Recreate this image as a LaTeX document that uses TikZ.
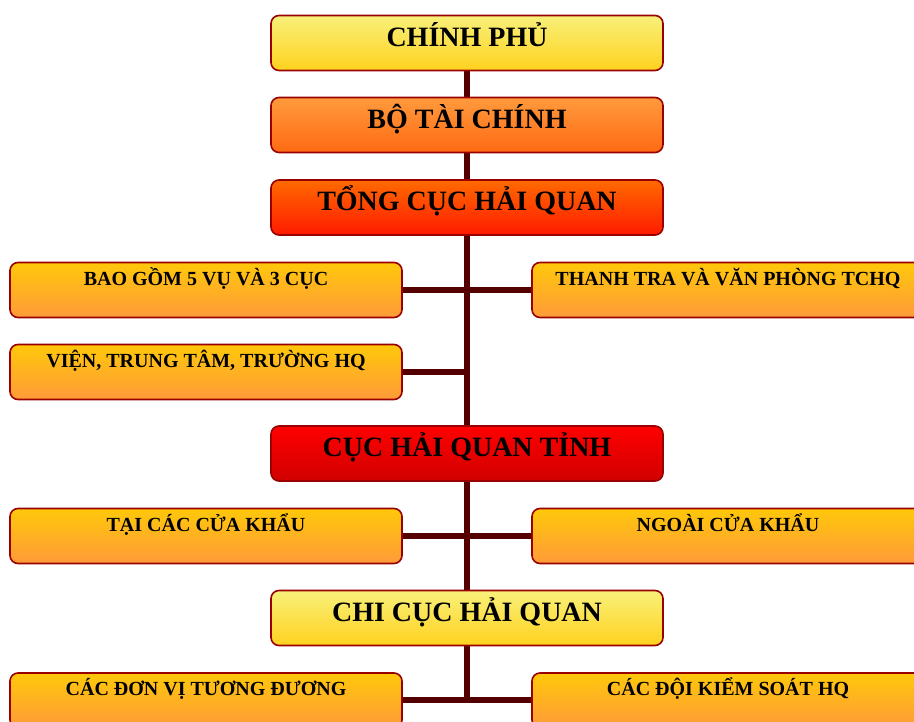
\documentclass[tikz,border=0pt]{standalone}
\usepackage{fontspec}
\setmainfont{Liberation Serif}
\usetikzlibrary{positioning,backgrounds}
\definecolor{trunk}{HTML}{550000}
\definecolor{edge}{HTML}{990000}
\definecolor{yeltop}{HTML}{F8F07A}
\definecolor{yelbot}{HTML}{FFD21E}
\definecolor{orgtop}{HTML}{FF9A3C}
\definecolor{orgbot}{HTML}{FF6A14}
\definecolor{redtop}{HTML}{FF6A00}
\definecolor{redbot}{HTML}{FF1A00}
\definecolor{crtop}{HTML}{FF0000}
\definecolor{crbot}{HTML}{D00000}
\definecolor{sidetop}{HTML}{FFC80A}
\definecolor{sidebot}{HTML}{FF9A3A}

\begin{document}
\begin{tikzpicture}[
    x=1pt,y=1pt,
    inner sep=0pt, %box size comes from minimum size
    box/.style={rectangle,rounded corners=8pt,draw=edge,line width=1.6pt,
        minimum width=392pt,minimum height=55pt},
    main/.style={box,font=\fontsize{28}{30}\selectfont\bfseries,
        text height=14pt,text depth=7pt},
    side/.style={box,top color=sidetop,bottom color=sidebot,
        font=\fontsize{20}{22}\selectfont\bfseries,
        text height=5pt,text depth=14pt},
    ypt/.style={main,top color=yeltop,bottom color=yelbot},
    opt/.style={main,top color=orgtop,bottom color=orgbot},
    rpt/.style={main,top color=redtop,bottom color=redbot},
    cpt/.style={main,top color=crtop,bottom color=crbot},
    link/.style={draw=trunk,line width=6pt},
    ]
    \clip (0,0) rectangle (914,722);
    \useasboundingbox (0,0) rectangle (914,722);

    %main column
    \node[ypt] (cp) at (467,679) {CHÍNH PHỦ};
    \node[opt] (btc) at (467,597) {BỘ TÀI CHÍNH};
    \node[rpt] (tchq) at (467,514.5) {TỔNG CỤC HẢI QUAN};
    \node[cpt] (chqt) at (467,268.5) {CỤC HẢI QUAN TỈNH};
    \node[ypt] (ccq) at (467,104) {CHI CỤC HẢI QUAN};

    %under tong cuc
    \node[side] (bg) at (206,432) {BAO GỒM 5 VỤ VÀ 3 CỤC};
    \node[side] (tt) at (728,432) {THANH TRA VÀ VĂN PHÒNG TCHQ};
    \node[side] (vien) at (206,350) {VIỆN, TRUNG TÂM, TRƯỜNG HQ};

    %under cuc tinh
    \node[side] (tai) at (206,186) {TẠI CÁC CỬA KHẨU};
    \node[side] (ngoai) at (728,186) {NGOÀI CỬA KHẨU};

    %under chi cuc
    \node[side] (cacdv) at (206,21.5) {CÁC ĐƠN VỊ TƯƠNG ĐƯƠNG};
    \node[side] (cacdoi) at (728,21.5) {CÁC ĐỘI KIỂM SOÁT HQ};

    %links
    \begin{scope}[on background layer]
    \draw[link] (cp) -- (btc);
    \draw[link] (btc) -- (tchq);
    \draw[link] (tchq) -- (chqt);
    \draw[link] (chqt) -- (ccq);
    \draw[link] (ccq) -- (ccq |- cacdv);
    \draw[link] (bg) -- (tt);
    \draw[link] (vien) -- (vien -| tchq);
    \draw[link] (tai) -- (ngoai);
    \draw[link] (cacdv) -- (cacdoi);
    \end{scope}

\end{tikzpicture}
\end{document}
